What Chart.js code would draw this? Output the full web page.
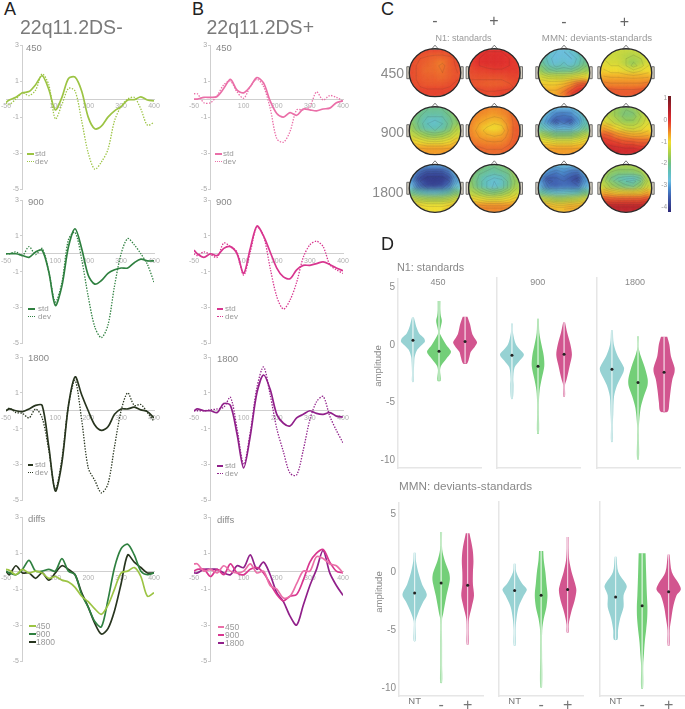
<!DOCTYPE html>
<html>
<head>
<meta charset="utf-8">
<title>MMN figure</title>
<script src="https://cdn.jsdelivr.net/npm/chart.js@4/dist/chart.umd.js"></script>
<style>
  html, body { margin: 0; padding: 0; background: #fff; width: 685px; height: 709px; overflow: hidden; }
  body { position: relative; font-family: "Liberation Sans", Arial, sans-serif; }
  canvas { position: absolute; }
  .t { position: absolute; line-height: 1; white-space: nowrap; }
  .key { position: absolute; height: 0; }
</style>
</head>
<body>
<script>
// ---- data ----
const timesMs = [-50,-40,-20,0,20,40,60,80,100,120,140,160,180,200,220,240,260,280,300,320,340,360,380,400];
const xTickValues = [-50,100,200,300,400];

const a450std = [-0.18,-0.05,0.1,0.35,0.42,0.8,1.3,0.55,-0.6,0.1,1.15,1.22,0.45,-1.0,-1.65,-1.5,-1.0,-0.65,-0.42,-0.05,-0.03,0.12,-0.05,-0.1];
const a450dev = [-0.2,-0.3,0,0.35,0.2,0.5,1.4,0.8,-1.1,-0.3,0.6,0.45,-1.2,-3.0,-3.9,-3.5,-2.8,-1.2,-0.4,0,0.1,-0.55,-1.45,-1.3];
const a900std = [0,0,0,-0.1,-0.2,0.1,0.2,-1.0,-2.9,-1.8,0.4,1.4,0.3,-1.2,-1.7,-1.5,-1.1,-0.9,-0.8,-0.8,-0.5,-0.3,-0.4,-0.4];
const a900dev = [0,0,0.1,-0.1,0.4,-0.05,0.3,-1.0,-2.7,-1.6,0.8,1.2,-0.3,-2.4,-4.1,-4.7,-4.0,-1.8,0,0.85,0.5,0,-0.6,-1.6];
const a1800std = [0,0.1,0,-0.05,0.1,0.3,0.3,-2,-4.5,-2.9,0.3,1.9,0.9,0,-0.8,-1.1,-0.9,-0.2,0.1,0.1,0.2,0.05,-0.05,-0.4];
const a1800dev = [0,0.15,-0.1,-0.15,-0.4,0.1,-0.4,-2.2,-4.4,-2.7,0.3,1.7,-0.5,-3.2,-3.9,-4.6,-4.1,-2,0,1.0,0.3,0.35,-0.1,-0.6];
const aDiff450 = [0.1,0.05,-0.2,0.1,-0.1,0,-0.1,-0.4,-0.3,-0.5,-0.6,-0.9,-1.4,-1.7,-2.1,-2.4,-1.9,-1.0,-0.1,0,0.2,-0.3,-1.4,-1.2];
const aDiff900 = [0,-0.1,-0.2,0.1,0.6,0,0,0.1,0,0.7,0,-0.2,-1.3,-2.0,-2.8,-3.1,-1.6,0.2,1.25,1.5,0.9,0,-0.2,-0.1];
const aDiff1800 = [0,-0.2,0.3,-0.1,-0.1,-0.4,-0.1,-0.5,-0.1,0.3,0.1,-0.2,-1.2,-2,-2.9,-3.5,-3.2,-2.2,-0.7,0.9,0.5,0.2,-0.1,-0.1];

const b450std = [0,0,0.1,0.1,0.15,0.6,1.1,0.5,0.35,0.7,1.2,0.9,-0.1,-0.8,-1.0,-0.75,-0.9,-0.55,-0.6,-0.65,-0.55,-0.5,-0.2,-0.1];
const b450dev = [0.3,0.3,-0.2,-0.2,0.2,0.8,1.0,0.4,0.05,0.7,1.1,0.7,-0.5,-2.2,-2.4,-1.8,-0.6,-0.6,-0.4,0.4,-0.05,0.2,0.1,-0.1];
const b900std = [0.2,0,-0.2,0,-0.1,0.3,0.4,0,-1.1,0.3,1.55,1.0,0.1,-0.8,-1.3,-1.4,-0.9,-0.65,-0.65,-0.55,-0.45,-0.6,-0.8,-0.95];
const b900dev = [0,-0.1,0.1,-0.05,-0.2,0.6,0.4,0.1,-1.2,0.1,1.5,1.0,-0.8,-2.4,-3.1,-2.6,-1.6,-0.2,0.5,0.7,0.4,-0.6,-0.9,-1.1];
const b1800std = [0,0.1,0,0,-0.1,0.4,0.3,-1.3,-3.2,-1.4,1.0,2.0,1.2,-0.2,-0.7,-0.85,-0.4,-0.2,0,-0.15,-0.2,-0.1,-0.3,-0.35];
const b1800dev = [0,0,0,0.05,0.1,0.2,0.75,-1,-3,-1.2,1.3,2.45,0.9,-1.0,-2.3,-3.5,-3.6,-2.2,-0.5,0.5,0.8,-0.3,-1.1,-1.8];
const bDiff450 = [0.4,0.4,0,0.1,-0.1,0.3,0,-0.1,0,0.4,-0.1,0,-0.8,-1,-1.5,-1.4,-0.7,0,0,0.8,0.7,0.4,0.3,-0.1];
const bDiff900 = [0,0.1,0.1,-0.3,0.1,-0.2,0.4,-0.1,-0.2,0.1,0.2,-0.1,-0.7,-1.3,-1.65,-1.4,-1.3,-0.5,0.5,1.0,1.2,0.5,0,-0.1];
const bDiff1800 = [-0.1,-0.1,0.1,0.1,0.1,-0.1,-0.2,0.3,0.2,0.9,0.1,0.5,-0.2,-1.2,-1.7,-2.5,-3.0,-1.9,-0.8,0.1,1.15,-0.1,-0.8,-1.35];

// violin outlines: [amplitude, half width]
const n1_450_NT = [[2.4,.02],[2,.08],[1.5,.14],[1,.24],[.6,.42],[.3,.46],[0,.34],[-.4,.17],[-1,.07],[-1.5,.05],[-2.5,.02],[-3.2,.01]];
const n1_450_minus = [[3.8,.05],[3,.05],[2.5,.07],[2.1,.11],[1.6,.07],[1.2,.03],[.9,.05],[0,.28],[-.6,.46],[-1.2,.28],[-1.8,.08],[-2.2,.04],[-3.1,.06]];
const n1_450_plus = [[2.45,.09],[1.8,.19],[1,.27],[.6,.36],[.2,.46],[-.2,.36],[-.6,.22],[-1,.17],[-1.6,.08]];
const n1_900_NT = [[1.8,.01],[1,.04],[0,.15],[-.5,.32],[-.9,.46],[-1.4,.3],[-2,.1],[-3,.05],[-3.5,.06],[-4.7,.01]];
const n1_900_minus = [[2.2,.03],[1,.05],[0,.13],[-1,.22],[-1.9,.24],[-3,.14],[-4,.06],[-5,.02],[-6,.02],[-7.7,.03]];
const n1_900_plus = [[1.9,.03],[1,.12],[0,.24],[-.9,.3],[-1.8,.22],[-3,.1],[-3.5,.03],[-4.5,.03]];
const n1_1800_NT = [[1.2,.01],[0,.07],[-1,.22],[-2,.46],[-2.4,.44],[-3.5,.2],[-4.5,.08],[-6,.05],[-7,.03],[-8.4,.01]];
const n1_1800_minus = [[.7,.01],[-.5,.04],[-2,.26],[-3,.37],[-3.6,.36],[-4.5,.22],[-5.5,.1],[-7,.02],[-8,.02],[-9.9,.02]];
const n1_1800_plus = [[.65,.12],[0,.2],[-1,.26],[-2,.4],[-2.4,.4],[-3,.32],[-4,.25],[-5,.2],[-5.8,.14]];

const mmn_450_NT = [[1.7,.01],[1,.05],[0,.14],[-1,.28],[-1.9,.46],[-2.5,.33],[-3.5,.13],[-4.2,.03],[-5,.03],[-5.9,.01]];
const mmn_450_minus = [[3.5,.01],[2,.04],[1,.14],[0,.3],[-.5,.33],[-1,.3],[-2,.2],[-3.5,.08],[-4,.03],[-6,.02],[-8,.015],[-9.5,.02]];
const mmn_450_plus = [[3.4,.07],[2,.19],[1,.22],[0,.2],[-1,.2],[-2,.24],[-3,.15],[-4,.05],[-5,.03],[-6.2,.02]];
const mmn_900_NT = [[.7,.01],[0,.06],[-1,.28],[-1.5,.46],[-2,.35],[-3,.15],[-4,.07],[-5,.03],[-6.3,.005]];
const mmn_900_minus = [[1.8,.08],[1,.1],[0,.16],[-1,.2],[-2,.24],[-3,.2],[-4,.1],[-5,.04],[-7,.01],[-9.9,.005]];
const mmn_900_plus = [[3,.01],[2,.03],[1,.06],[0,.15],[-1,.28],[-1.6,.33],[-2.5,.26],[-3.5,.13],[-4.5,.04],[-5.2,.03]];
const mmn_1800_NT = [[1.3,.01],[0,.1],[-1,.38],[-1.3,.42],[-2,.3],[-3,.3],[-4,.17],[-5,.09],[-5.8,.07]];
const mmn_1800_minus = [[1.6,.13],[0,.15],[-2,.18],[-3,.2],[-4,.19],[-5,.15],[-6,.1],[-7,.07],[-8,.04],[-10,.005]];
const mmn_1800_plus = [[1.5,.01],[0,.12],[-1,.38],[-1.5,.46],[-2,.3],[-3,.17],[-4,.1],[-5,.04],[-6.3,.02]];

const n1Means450 = [.4,-.55,.3];
const n1Means900 = [-.95,-1.9,-.85];
const n1Means1800 = [-2.15,-3.3,-2.4];
const mmnMeans450 = [-1.75,-.9,-1.1];
const mmnMeans900 = [-1.6,-2,-1.5];
const mmnMeans1800 = [-2.15,-2.9,-1.7];

const groupLabels = ['NT','-','+'];
const violinTicks = [-10,-5,0,5];

// scalp maps, 7 x 7 samples per head, top row first
const n1Map450minus = [-.1,-.1,-.1,-.1,-.1,-.1,-.1, -.15,-.2,-.25,-.3,-.3,-.25,-.15, -.15,-.25,-.3,-.35,-.45,-.3,-.15, -.15,-.25,-.35,-.35,-.4,-.3,-.2, -.15,-.25,-.3,-.3,-.35,-.3,-.2, -.15,-.2,-.25,-.25,-.25,-.2,-.15, -.1,-.1,-.1,-.1,-.1,-.1,-.1];
const n1Map450plus = [0,0,0,0,0,0,0, -.1,0,.05,.05,.05,0,-.1, -.1,0,.05,.05,.05,0,-.05, -.15,-.1,-.1,-.05,-.05,-.05,-.05, -.2,-.2,-.2,-.2,-.2,-.15,-.1, -.2,-.25,-.3,-.3,-.3,-.25,-.15, -.1,-.1,-.15,-.15,-.1,-.1,-.1];
const mmnMap450minus = [-2.2,-2.4,-2.6,-2.8,-2.5,-2.3,-2.1, -2.2,-2.5,-2.8,-2.7,-2.8,-2.5,-2.1, -2,-2.4,-2.7,-2.5,-2.7,-2.4,-2, -1.7,-2,-2.1,-2.1,-2.1,-1.9,-1.7, -1.2,-1.3,-1.3,-1.3,-1.2,-1.1,-1, -.9,-.9,-.9,-.8,-.6,-.3,-.2, -.7,-.7,-.7,-.5,-.2,0,0];
const mmnMap450plus = [-1.2,-1.2,-1.3,-1.3,-1.3,-1.2,-1.1, -1.2,-1.3,-1.3,-1.4,-1.5,-1.4,-1.2, -1.1,-1.2,-1.2,-1.4,-1.7,-1.5,-1.2, -.9,-1,-1,-1.1,-1.2,-1.1,-1, -.7,-.7,-.7,-.7,-.7,-.7,-.7, -.4,-.5,-.5,-.5,-.5,-.5,-.4, -.2,-.2,-.25,-.25,-.25,-.2,-.2];
const n1Map900minus = [-1.7,-1.9,-2,-2,-2,-1.9,-1.5, -1.8,-2,-2.2,-2.2,-2.2,-2,-1.7, -1.8,-2.1,-2.4,-2.6,-2.4,-2.1,-1.8, -1.6,-2,-2.3,-2.4,-2.3,-2,-1.5, -1.3,-1.5,-1.7,-1.8,-1.7,-1.5,-1.2, -.9,-1,-1.1,-1.1,-1.1,-1,-.8, -.6,-.6,-.6,-.6,-.6,-.6,-.6];
const n1Map900plus = [-.35,-.4,-.45,-.5,-.45,-.4,-.3, -.4,-.5,-.55,-.6,-.55,-.45,-.3, -.45,-.6,-.7,-.8,-.75,-.5,-.3, -.5,-.7,-.9,-1,-.95,-.55,-.25, -.45,-.6,-.7,-.75,-.7,-.5,-.25, -.4,-.45,-.5,-.5,-.5,-.4,-.25, -.25,-.3,-.35,-.35,-.35,-.3,-.2];
const mmnMap900minus = [-2.2,-2.5,-2.8,-2.8,-2.8,-2.5,-2.1, -2.5,-2.9,-3.2,-3.3,-3.2,-2.9,-2.3, -2.6,-3.1,-3.7,-3.4,-3.7,-3.1,-2.4, -2.2,-2.6,-2.9,-2.9,-2.9,-2.6,-2.1, -1.5,-1.7,-1.9,-1.9,-1.9,-1.7,-1.4, -1,-1,-1.1,-1.1,-1.1,-1,-.9, -.6,-.6,-.6,-.6,-.6,-.6,-.6];
const mmnMap900plus = [-1.3,-1.5,-1.7,-1.8,-1.7,-1.4,-1.2, -1.3,-1.5,-1.7,-1.9,-1.9,-1.6,-1.3, -1.1,-1.3,-1.5,-1.7,-1.7,-1.5,-1.2, -.6,-.8,-1,-1.2,-1.3,-1.2,-1, -.2,-.3,-.5,-.6,-.7,-.7,-.7, .1,-.05,-.1,-.2,-.2,-.3,-.3, .3,.3,.2,.2,.2,.1,0];
const n1Map1800minus = [-2.6,-2.8,-3,-3,-3,-2.8,-2.5, -2.9,-3.4,-3.7,-3.7,-3.7,-3.4,-2.8, -3.1,-3.8,-4,-4,-4,-3.8,-3, -2.8,-3.4,-3.8,-3.9,-3.8,-3.4,-2.7, -2,-2.3,-2.5,-2.6,-2.5,-2.3,-1.9, -1.2,-1.4,-1.5,-1.5,-1.5,-1.4,-1.2, -.9,-.9,-1,-1,-1,-.9,-.8];
const n1Map1800plus = [-1.3,-1.6,-1.9,-2,-1.9,-1.6,-1.2, -1.7,-2,-2.1,-2.2,-2.1,-2,-1.5, -1.8,-2.1,-2.4,-2.6,-2.5,-2.1,-1.7, -1.7,-2.1,-2.4,-2.7,-2.5,-2.1,-1.6, -1.4,-1.6,-1.8,-1.9,-1.8,-1.6,-1.3, -.9,-1,-1.1,-1.1,-1.1,-1,-.9, -.5,-.5,-.5,-.5,-.5,-.5,-.5];
const mmnMap1800minus = [-2.5,-2.7,-2.8,-2.7,-2.8,-2.7,-2.4, -2.8,-3.1,-3.3,-3.1,-3.3,-3.4,-2.9, -3.1,-3.7,-3.5,-3.4,-3.6,-3.9,-3.1, -2.9,-3.4,-3.5,-3.4,-3.4,-3.5,-2.9, -2.1,-2.4,-2.6,-2.6,-2.5,-2.4,-2, -1.2,-1.3,-1.5,-1.5,-1.4,-1.3,-1.1, -.6,-.7,-.8,-.8,-.7,-.7,-.6];
const mmnMap1800plus = [-1.2,-1.4,-1.5,-1.5,-1.5,-1.3,-1.1, -1.4,-1.7,-1.8,-1.8,-1.8,-1.7,-1.3, -1.5,-1.9,-2.2,-2.4,-2.5,-2.2,-1.5, -1.3,-1.6,-1.8,-2,-2.1,-1.8,-1.3, -.7,-.8,-.9,-.9,-.9,-.9,-.7, -.1,-.2,-.2,-.2,-.2,-.2,-.1, .4,.4,.4,.4,.4,.4,.3];

const colorStops = [[1.12,'#6e1a20'],[.5,'#b21e2a'],[0,'#e2302c'],[-.3,'#ea5f2c'],[-.6,'#f29a26'],[-1,'#f0dc2e'],[-1.3,'#c8d73c'],[-1.7,'#93ca58'],[-2,'#6fc088'],[-2.4,'#60c0bd'],[-2.8,'#6abde0'],[-3.1,'#4a90d0'],[-3.5,'#3f60b0'],[-4.23,'#2c2878']];

// ---- setup ----
Chart.defaults.animation = false;
Chart.defaults.responsive = false;
Chart.defaults.events = [];
Chart.defaults.devicePixelRatio = 1;
Chart.defaults.layout.autoPadding = false;
Chart.defaults.font.family = '"Liberation Sans", Arial, sans-serif';
Chart.defaults.plugins.legend.display = false;
Chart.defaults.plugins.tooltip.enabled = false;

function text(str, x, y, size, color, align, rotate) {
  const d = document.createElement('div');
  d.className = 't';
  d.textContent = str;
  const tx = align === 'center' ? '-50%' : align === 'right' ? '-100%' : '0';
  d.style.cssText = `left:${x}px;top:${y}px;font-size:${size}px;color:${color};transform:translate(${tx},-50%)${rotate ? ' rotate(-90deg)' : ''}`;
  document.body.appendChild(d);
}

function makeCanvas(left, top, width, height) {
  const c = document.createElement('canvas');
  c.width = width;
  c.height = height;
  c.style.left = left + 'px';
  c.style.top = top + 'px';
  c.style.width = width + 'px';
  c.style.height = height + 'px';
  document.body.appendChild(c);
  return c;
}

// ---- ERP line panels (A, B) ----
const pad = { left: 14, right: 12, top: 5, bottom: 12 };

function erpPanel(left, right, top, bottom, series) {
  const c = makeCanvas(left - pad.left, top - pad.top,
    Math.round(right - left) + pad.left + pad.right, Math.round(bottom - top) + pad.top + pad.bottom);
  new Chart(c, {
    type: 'line',
    data: {
      labels: timesMs,
      datasets: series.map(s => ({
        data: s.values,
        borderColor: s.color,
        borderWidth: s.dash ? 1.3 : 1.7,
        borderDash: s.dash ? [1.4, 1.4] : [],
        pointRadius: 0,
        tension: 0.3,
        fill: false
      }))
    },
    options: {
      layout: { padding: pad },
      scales: {
        x: {
          type: 'linear', min: -50, max: 400, position: { y: 0 },
          afterBuildTicks: axis => { axis.ticks = xTickValues.map(v => ({ value: v })); },
          grid: { display: false, drawTicks: false },
          border: { color: '#cfcfcf', width: 1 },
          ticks: { color: '#b0b0b0', font: { size: 7 }, padding: 3, maxRotation: 0, autoSkip: false }
        },
        y: {
          min: -5, max: 3, position: { x: 0 },
          grid: { drawOnChartArea: false, tickLength: 2, color: '#cfcfcf' },
          border: { color: '#cfcfcf', width: 1 },
          ticks: { stepSize: 2, color: '#a8a8a8', font: { size: 7 }, callback: v => v + '\u2002' }
        }
      }
    }
  });
}

function key(x, y, len, color, dash, label, labelX, size) {
  const k = document.createElement('div');
  k.className = 'key';
  k.style.cssText = `left:${x}px;top:${y}px;width:${len}px;border-top:${dash ? '1px dotted' : '2px solid'} ${color}`;
  document.body.appendChild(k);
  text(label, labelX, y + 0.5, size, '#999');
}

const colA450 = '#9cc444', colA900 = '#2f8040', colA1800 = '#28351f';
const colB450 = '#ea6fa8', colB900 = '#d8368f', colB1800 = '#90208a';

const rowTop = [43, 198, 355, 515];
const rowBottom = [189, 343, 500, 661];
const aL = 5.5, aR = 153.5, bL = 194, bR = 343;

erpPanel(aL, aR, rowTop[0], rowBottom[0], [{ values: a450dev, color: colA450, dash: true }, { values: a450std, color: colA450 }]);
erpPanel(aL, aR, rowTop[1], rowBottom[1], [{ values: a900dev, color: colA900, dash: true }, { values: a900std, color: colA900 }]);
erpPanel(aL, aR, rowTop[2], rowBottom[2], [{ values: a1800dev, color: colA1800, dash: true }, { values: a1800std, color: colA1800 }]);
erpPanel(aL, aR, rowTop[3], rowBottom[3], [{ values: aDiff450, color: colA450 }, { values: aDiff900, color: colA900 }, { values: aDiff1800, color: colA1800 }]);
erpPanel(bL, bR, rowTop[0], rowBottom[0], [{ values: b450dev, color: colB450, dash: true }, { values: b450std, color: colB450 }]);
erpPanel(bL, bR, rowTop[1], rowBottom[1], [{ values: b900dev, color: colB900, dash: true }, { values: b900std, color: colB900 }]);
erpPanel(bL, bR, rowTop[2], rowBottom[2], [{ values: b1800dev, color: colB1800, dash: true }, { values: b1800std, color: colB1800 }]);
erpPanel(bL, bR, rowTop[3], rowBottom[3], [{ values: bDiff450, color: colB450 }, { values: bDiff900, color: colB900 }, { values: bDiff1800, color: colB1800 }]);

key(27, 153, 7, colA450, false, 'std', 35, 8);
key(27, 161, 7, colA450, true, 'dev', 35, 8);
key(28, 308, 7, colA900, false, 'std', 38, 8);
key(28, 316, 7, colA900, true, 'dev', 38, 8);
key(28, 464, 5, colA1800, false, 'std', 35, 8);
key(28, 472, 5, colA1800, true, 'dev', 35, 8);
key(29, 625, 7, colA450, false, '450', 36, 8.5);
key(29, 633, 7, colA900, false, '900', 36, 8.5);
key(29, 641, 7, colA1800, false, '1800', 36, 8.5);
key(215, 153, 7, colB450, false, 'std', 223, 8);
key(215, 161, 7, colB450, true, 'dev', 223, 8);
key(217, 308, 6, colB900, false, 'std', 225, 8);
key(217, 316, 6, colB900, true, 'dev', 225, 8);
key(217, 465, 6, colB1800, false, 'std', 225, 8);
key(217, 473, 6, colB1800, true, 'dev', 225, 8);
key(218, 626, 6, colB450, false, '450', 225, 8.5);
key(218, 634, 6, colB900, false, '900', 225, 8.5);
key(218, 642, 6, colB1800, false, '1800', 225, 8.5);

[['450', 26, 48], ['900', 28, 202], ['1800', 28, 358], ['diffs', 28, 519],
 ['450', 216, 48], ['900', 216, 202], ['1800', 217, 359], ['diffs', 217, 520]]
  .forEach(r => text(r[0], r[1], r[2], 9.5, '#888'));

text('A', 4, 8.5, 18, '#222');
text('B', 192, 8.5, 18, '#222');
text('C', 381, 8.5, 18, '#222');
text('D', 381, 244, 18, '#222');
text('22q11.2DS-', 20, 28, 19.5, '#7a7a7a');
text('22q11.2DS+', 206.5, 28, 19.5, '#7a7a7a');

// ---- scalp maps (C) ----
function colorFor(v) {
  for (let i = 1; i < colorStops.length; i++) {
    if (v >= colorStops[i][0]) {
      const [a, ca] = colorStops[i - 1], [b, cb] = colorStops[i];
      const f = (a - v) / (a - b);
      const ch = (c, s) => parseInt(c.substr(s, 2), 16);
      const mix = s => Math.round(ch(ca, s) + (ch(cb, s) - ch(ca, s)) * f);
      return `rgb(${mix(1)},${mix(3)},${mix(5)})`;
    }
  }
  return colorStops[colorStops.length - 1][1];
}

const mapW = 315, mapH = 230, mapLeft = 370;
const headX = [65, 124.3, 194, 256];
const headY = [72.7, 130.7, 188.3];
const headRx = 25.7, headRy = 24;
const cellStepX = 7.5, cellStepY = 7;
const contourLevels = [];
for (let lv = -4; lv <= 1; lv += 0.2) contourLevels.push(lv);
const headMaps = [
  [n1Map450minus, n1Map450plus, mmnMap450minus, mmnMap450plus],
  [n1Map900minus, n1Map900plus, mmnMap900minus, mmnMap900plus],
  [n1Map1800minus, n1Map1800plus, mmnMap1800minus, mmnMap1800plus]
];
const heads = [];
headY.forEach((cy, r) => headX.forEach((cx, k) => heads.push({ cx, cy, values: headMaps[r][k] })));

function ellipsePath(ctx, x, y) {
  ctx.beginPath();
  ctx.ellipse(x, y, headRx, headRy, 0, 0, Math.PI * 2);
}

// thin iso lines over the map, from the same 7 x 7 samples
function drawContours(ctx, h, x, y) {
  const at = (r, c) => h.values[r * 7 + c];
  const px = c => x + (c - 3) * cellStepX, py = r => y + (r - 3) * cellStepY;
  ctx.beginPath();
  contourLevels.forEach(lv => {
    for (let r = 0; r < 6; r++) {
      for (let c = 0; c < 6; c++) {
        const a = at(r, c), b = at(r, c + 1), d = at(r + 1, c), e = at(r + 1, c + 1);
        const hits = [];
        if ((a < lv) !== (b < lv)) hits.push([px(c + (lv - a) / (b - a)), py(r)]);
        if ((b < lv) !== (e < lv)) hits.push([px(c + 1), py(r + (lv - b) / (e - b))]);
        if ((d < lv) !== (e < lv)) hits.push([px(c + (lv - d) / (e - d)), py(r + 1)]);
        if ((a < lv) !== (d < lv)) hits.push([px(c), py(r + (lv - a) / (d - a))]);
        for (let i = 0; i + 1 < hits.length; i += 2) {
          ctx.moveTo(hits[i][0], hits[i][1]);
          ctx.lineTo(hits[i + 1][0], hits[i + 1][1]);
        }
      }
    }
  });
  ctx.stroke();
}

const headPlugin = {
  id: 'heads',
  beforeDatasetDraw(chart, args) {
    const h = heads[args.index], s = chart.scales, ctx = chart.ctx;
    ctx.save();
    ellipsePath(ctx, s.x.getPixelForValue(h.cx), s.y.getPixelForValue(h.cy));
    ctx.clip();
    ctx.filter = 'blur(2.5px)';
  },
  afterDatasetDraw(chart) {
    chart.ctx.restore();
  },
  afterDatasetsDraw(chart) {
    const s = chart.scales, ctx = chart.ctx;
    heads.forEach(h => {
      const x = s.x.getPixelForValue(h.cx), y = s.y.getPixelForValue(h.cy);
      ctx.save();
      ellipsePath(ctx, x, y);
      ctx.clip();
      ctx.strokeStyle = 'rgba(50,50,50,0.25)';
      ctx.lineWidth = 0.5;
      drawContours(ctx, h, x, y);
      ctx.restore();

      ctx.save();
      ctx.strokeStyle = '#555';
      ctx.lineWidth = 0.8;
      ctx.fillStyle = '#d8d2c4';
      ctx.beginPath();
      ctx.rect(x - headRx - 2.5, y - 6, 2.5, 12);
      ctx.rect(x + headRx, y - 6, 2.5, 12);
      ctx.fill();
      ctx.stroke();
      ctx.fillStyle = '#fff';
      ctx.beginPath();
      ctx.moveTo(x - 3.5, y - headRy + 0.5);
      ctx.lineTo(x, y - headRy - 3.5);
      ctx.lineTo(x + 3.5, y - headRy + 0.5);
      ctx.closePath();
      ctx.fill();
      ctx.stroke();
      ctx.strokeStyle = '#2a2a2a';
      ctx.lineWidth = 1.3;
      ellipsePath(ctx, x, y);
      ctx.stroke();
      ctx.restore();
    });
  }
};

new Chart(makeCanvas(mapLeft, 0, mapW, mapH), {
  type: 'scatter',
  data: {
    datasets: heads.map(h => ({
      data: h.values.map((v, i) => ({
        x: h.cx + ((i % 7) - 3) * cellStepX,
        y: h.cy + (Math.floor(i / 7) - 3) * cellStepY
      })),
      pointStyle: 'rect',
      pointRadius: 8,
      pointBorderWidth: 0,
      pointBackgroundColor: h.values.map(colorFor)
    }))
  },
  options: {
    layout: { padding: 0 },
    scales: {
      x: { type: 'linear', display: false, min: 0, max: mapW },
      y: { type: 'linear', display: false, min: 0, max: mapH, reverse: true }
    }
  },
  plugins: [headPlugin]
});

// colour bar
new Chart(makeCanvas(655, 90, 16, 128), {
  type: 'bar',
  data: {
    labels: ['scale'],
    datasets: [{
      data: [[-4.23, 1.12]],
      barPercentage: 1,
      categoryPercentage: 1,
      backgroundColor(ctx) {
        const area = ctx.chart.chartArea;
        if (!area) return '#888';
        const g = ctx.chart.ctx.createLinearGradient(0, area.top, 0, area.bottom);
        colorStops.forEach(st => g.addColorStop(Math.min(1, Math.max(0, (1.12 - st[0]) / 5.35)), st[1]));
        return g;
      }
    }]
  },
  options: {
    layout: { padding: { top: 6, bottom: 6 } },
    scales: {
      x: { display: false },
      y: {
        min: -4.23, max: 1.12,
        afterBuildTicks: axis => { axis.ticks = [-4, -3, -2, -1, 0, 1].map(v => ({ value: v })); },
        afterFit: axis => { axis.width = 13; },
        grid: { display: false, drawTicks: false },
        border: { display: false },
        ticks: { color: '#999', font: { size: 6.5 }, padding: 1 }
      }
    }
  }
});

[['-', 435, 21], ['+', 494, 21], ['-', 564, 22], ['+', 624.5, 22]]
  .forEach(r => text(r[0], r[1], r[2], 16, '#666', 'center'));
text('N1: standards', 463.5, 37.5, 9, '#999', 'center');
text('MMN: deviants-standards', 597, 37.5, 9.7, '#999', 'center');
text('450', 404, 73.3, 14, '#8a8a8a', 'right');
text('900', 404, 132, 14, '#8a8a8a', 'right');
text('1800', 403.5, 192, 14, '#8a8a8a', 'right');

// ---- violins (D) ----
const groupColors = ['#97d2d3', '#73cf78', '#d2558f'];
const vPad = { left: 0, right: 4, top: 8, bottom: 13 };
const vAxisW = 24;
const minHalfWidth = 0.035; // tails stay about 2px wide, like the original

function violinOutline(profile, k) {
  const half = p => Math.max(p[1], minHalfWidth);
  const right = profile.map(p => ({ x: k + half(p), y: p[0] }));
  const left = profile.slice().reverse().map(p => ({ x: k - half(p), y: p[0] }));
  return right.concat(left);
}

function violinPanel(left, width, top, bottom, yMax, yMin, xMin, xMax, profiles, means, showY, showX) {
  const c = makeCanvas(left - vAxisW, top - vPad.top,
    Math.round(width) + vAxisW + vPad.right, Math.round(bottom - top) + vPad.top + vPad.bottom);
  const shapes = profiles.map((p, i) => ({
    data: violinOutline(p, i + 1),
    showLine: true,
    borderWidth: 0,
    pointRadius: 0,
    tension: 0.3,
    fill: 'shape',
    backgroundColor: groupColors[i]
  }));
  const spines = profiles.map((p, i) => ({
    data: [{ x: i + 1, y: p[0][0] }, { x: i + 1, y: p[p.length - 1][0] }],
    showLine: true,
    borderColor: 'rgba(255,255,255,0.4)',
    borderWidth: 1,
    pointRadius: 0
  }));
  const dots = {
    data: means.map((m, i) => ({ x: i + 1, y: m })),
    pointRadius: 1.5,
    pointBackgroundColor: '#222',
    pointBorderWidth: 0
  };
  new Chart(c, {
    type: 'scatter',
    data: { datasets: [dots].concat(spines, shapes) },
    options: {
      layout: { padding: vPad },
      scales: {
        x: {
          type: 'linear', min: xMin, max: xMax, position: { y: yMin },
          afterBuildTicks: axis => { axis.ticks = [1, 2, 3].map(v => ({ value: v })); },
          grid: { display: false, drawTicks: false },
          border: { color: '#e6e6e6', width: 1.5 },
          ticks: {
            display: showX,
            callback: v => groupLabels[v - 1],
            color: '#777',
            font: ctx => ({ size: ctx.index === 0 ? 9.5 : 16 }),
            padding: 0,
            maxRotation: 0,
            autoSkip: false
          }
        },
        y: {
          type: 'linear', min: yMin, max: yMax, position: 'left',
          afterBuildTicks: axis => { axis.ticks = violinTicks.map(v => ({ value: v })); },
          afterFit: axis => { axis.width = vAxisW; },
          grid: { display: false, drawTicks: false },
          border: { color: '#e6e6e6', width: 1.5 },
          ticks: { display: showY, color: '#8a8a8a', font: { size: 10 }, padding: 3 }
        }
      }
    }
  });
}

const topLefts = [398.3, 497, 596.7];
const botLefts = [399.3, 499, 600.3];
const n1Profiles = [[n1_450_NT, n1_450_minus, n1_450_plus], [n1_900_NT, n1_900_minus, n1_900_plus], [n1_1800_NT, n1_1800_minus, n1_1800_plus]];
const mmnProfiles = [[mmn_450_NT, mmn_450_minus, mmn_450_plus], [mmn_900_NT, mmn_900_minus, mmn_900_plus], [mmn_1800_NT, mmn_1800_minus, mmn_1800_plus]];
const n1Means = [n1Means450, n1Means900, n1Means1800];
const mmnMeans = [mmnMeans450, mmnMeans900, mmnMeans1800];

topLefts.forEach((l, i) => violinPanel(l, 83, 277.7, 468, 5.71, -10.66, 0.427, 3.61, n1Profiles[i], n1Means[i], i === 0, false));
botLefts.forEach((l, i) => violinPanel(l, 84, 501.7, 696, 6, -10.64, 0.41, 3.58, mmnProfiles[i], mmnMeans[i], i === 0, true));

text('N1: standards', 397, 267, 10.8, '#888');
text('450', 438, 282, 9, '#888', 'center');
text('900', 537.7, 282, 9, '#888', 'center');
text('1800', 635, 282, 9, '#888', 'center');
text('MMN: deviants-standards', 399, 486, 11.7, '#888');
text('amplitude', 378, 365.5, 9.6, '#888', 'center', true);
text('amplitude', 379, 592, 9.6, '#888', 'center', true);
</script>
</body>
</html>
